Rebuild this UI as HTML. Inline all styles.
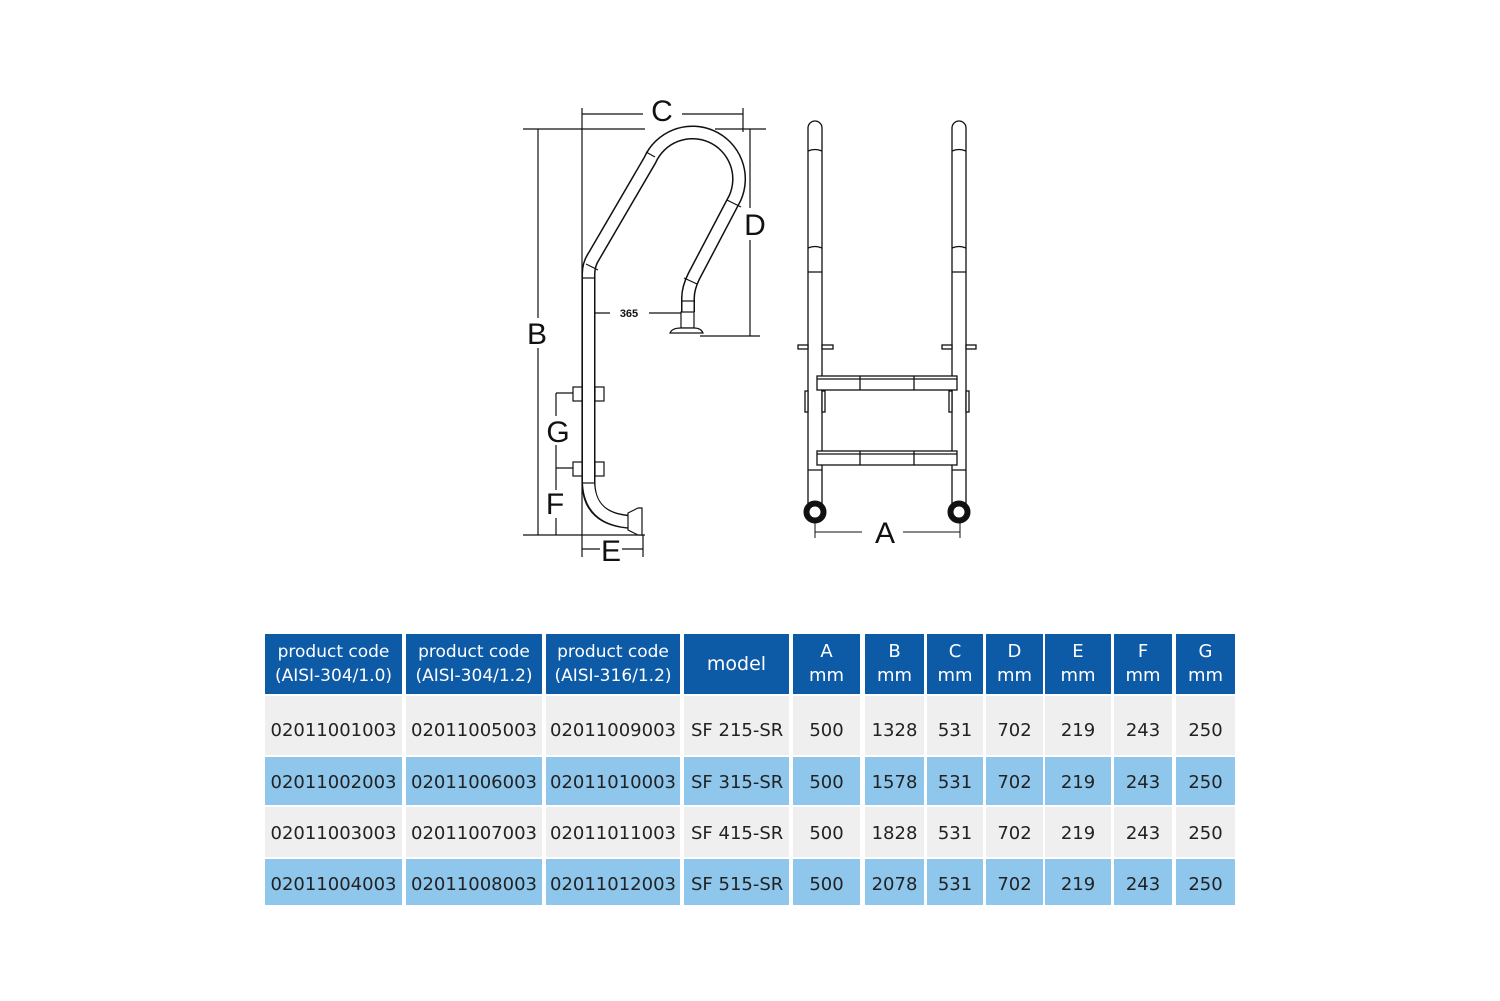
<!DOCTYPE html>
<html><head><meta charset="utf-8"><style>
body{margin:0;width:1500px;height:1001px;background:#fff;position:relative;overflow:hidden;font-family:"DejaVu Sans","Liberation Sans",sans-serif;}
.c{position:absolute;display:flex;align-items:center;justify-content:center;text-align:center;color:#222;font-size:18px;white-space:nowrap;box-sizing:border-box}
.h{background:#0d5aa7;color:#fff;line-height:24px;font-size:17px}
.g{background:#efefef}
.b{background:#8ec6ec}
</style></head><body>
<svg width="1500" height="600" style="position:absolute;left:0;top:0" font-family="Liberation Sans,sans-serif">
<g stroke="#111" stroke-width="1.2" fill="none">
<line x1="582" y1="108" x2="582" y2="557"/>
<line x1="743" y1="108" x2="743" y2="132"/>
<line x1="582" y1="114" x2="643" y2="114"/><line x1="682" y1="114" x2="743" y2="114"/>
<line x1="523" y1="129" x2="645" y2="129"/><line x1="715" y1="129" x2="766" y2="129"/>
<line x1="538" y1="129" x2="538" y2="318"/><line x1="538" y1="348" x2="538" y2="535"/>
<line x1="523" y1="535" x2="645" y2="535"/>
<line x1="750" y1="129" x2="750" y2="208"/><line x1="750" y1="240" x2="750" y2="336"/>
<line x1="700" y1="336" x2="760" y2="336"/>
<line x1="582" y1="313" x2="610" y2="313"/><line x1="649" y1="313" x2="681" y2="313"/>
<line x1="556" y1="393" x2="573" y2="393"/><line x1="556" y1="468" x2="573" y2="468"/>
<line x1="556" y1="393" x2="556" y2="416"/><line x1="556" y1="445" x2="556" y2="490"/>
<line x1="556" y1="518" x2="556" y2="535"/>
<line x1="643" y1="535" x2="643" y2="557"/>
<line x1="582" y1="549" x2="600" y2="549"/><line x1="622" y1="549" x2="643" y2="549"/>
</g>
<path d="M588.5,483 L588.5,274 Q588.5,264 594,256 L650,160 A46,46 0 0 1 735,198 L694,276 Q688,288 688,298 L688,312" stroke="#111" stroke-width="14" fill="none"/>
<path d="M588.5,483 L588.5,274 Q588.5,264 594,256 L650,160 A46,46 0 0 1 735,198 L694,276 Q688,288 688,298 L688,312" stroke="#fff" stroke-width="11" fill="none"/>
<path d="M588.5,482 Q588.5,520 632,522" stroke="#111" stroke-width="14" fill="none"/>
<path d="M588.5,480 Q588.5,520 632,522" stroke="#fff" stroke-width="11" fill="none"/>
<g stroke="#111" stroke-width="1.2" fill="#fff">
<line x1="582" y1="278" x2="595" y2="278"/><line x1="586" y1="264" x2="598" y2="270"/>
<line x1="646" y1="152" x2="655" y2="157"/><line x1="727" y1="200" x2="741" y2="207"/>
<line x1="684" y1="278" x2="697" y2="284"/><line x1="681" y1="301" x2="694" y2="301"/>
<rect x="681" y="312" width="13" height="16"/>
<path d="M670,333 Q672,328 681,328 L694,328 Q701,328 703,333 Z"/>
<line x1="582" y1="483" x2="595" y2="483"/>
<path d="M628,513 L638,508 L642,508 L642,535 L638,535 L628,530 Z"/>
<rect x="573" y="387" width="9" height="14"/><rect x="595" y="387" width="9" height="14"/>
<rect x="573" y="462" width="9" height="14"/><rect x="595" y="462" width="9" height="14"/>
</g>
<g font-size="30" fill="#111" text-anchor="middle">
<text x="662" y="121">C</text><text x="537" y="344">B</text><text x="755" y="235">D</text>
<text x="558" y="442">G</text><text x="555" y="514">F</text><text x="611" y="561">E</text>
<text x="885" y="543">A</text>
<text x="629" y="317" font-size="11" font-weight="bold">365</text>
</g>
<g stroke="#111" stroke-width="1.3" fill="#fff">
<path d="M808,505 L808,128 A7,7 0 0 1 822,128 L822,505"/>
<path d="M952,505 L952,128 A7,7 0 0 1 966,128 L966,505"/>
<path d="M808,151 Q815,148 822,151 M808,248 Q815,245 822,248 M808,272 L822,272 M952,151 Q959,148 966,151 M952,248 Q959,245 966,248 M952,272 L966,272 M808,470 L822,470 M952,470 L966,470" fill="none"/>
<rect x="798" y="345" width="10" height="4"/><rect x="822" y="345" width="11" height="4"/>
<rect x="942" y="345" width="10" height="4"/><rect x="966" y="345" width="10" height="4"/>
<rect x="817" y="376" width="140" height="14"/><line x1="817" y1="379" x2="957" y2="379"/>
<line x1="860" y1="376" x2="860" y2="390"/><line x1="914" y1="376" x2="914" y2="390"/>
<rect x="817" y="451" width="140" height="14"/><line x1="817" y1="454" x2="957" y2="454"/>
<line x1="860" y1="451" x2="860" y2="465"/><line x1="914" y1="451" x2="914" y2="465"/>
<rect x="805" y="391" width="3" height="21"/><rect x="822" y="391" width="3" height="21"/>
<rect x="949" y="391" width="3" height="21"/><rect x="966" y="391" width="3" height="21"/>
<circle cx="815" cy="512" r="8.5" stroke-width="6"/><circle cx="959" cy="512" r="8.5" stroke-width="6"/>
<line x1="815" y1="522" x2="815" y2="538" stroke-width="1"/><line x1="960" y1="522" x2="960" y2="538" stroke-width="1"/>
<line x1="815" y1="532" x2="862" y2="532" stroke-width="1"/><line x1="903" y1="532" x2="960" y2="532" stroke-width="1"/>
</g>
</svg>

<div class="c h" style="left:265px;top:634px;width:137px;height:60px">product code<br>(AISI-304/1.0)</div>
<div class="c h" style="left:406px;top:634px;width:136px;height:60px">product code<br>(AISI-304/1.2)</div>
<div class="c h" style="left:546px;top:634px;width:134px;height:60px">product code<br>(AISI-316/1.2)</div>
<div class="c h" style="left:684px;top:634px;width:105px;height:60px;font-size:19px">model</div>
<div class="c h" style="left:793px;top:634px;width:67px;height:60px;font-size:18px">A<br>mm</div>
<div class="c h" style="left:865px;top:634px;width:59px;height:60px;font-size:18px">B<br>mm</div>
<div class="c h" style="left:927px;top:634px;width:56px;height:60px;font-size:18px">C<br>mm</div>
<div class="c h" style="left:986px;top:634px;width:57px;height:60px;font-size:18px">D<br>mm</div>
<div class="c h" style="left:1045px;top:634px;width:66px;height:60px;font-size:18px">E<br>mm</div>
<div class="c h" style="left:1114px;top:634px;width:58px;height:60px;font-size:18px">F<br>mm</div>
<div class="c h" style="left:1176px;top:634px;width:59px;height:60px;font-size:18px">G<br>mm</div>

<div id="rows"></div>
<script>
var rows=[["02011001003","02011005003","02011009003","SF 215-SR","1328",696,59,"g",10],
["02011002003","02011006003","02011010003","SF 315-SR","1578",757,48,"b",2],
["02011003003","02011007003","02011011003","SF 415-SR","1828",807,50,"g",2],
["02011004003","02011008003","02011012003","SF 515-SR","2078",859,46,"b",4]];
var cols=[[265,137],[406,136],[546,134],[684,105],[793,67],[865,59],[927,56],[986,57],[1045,66],[1114,58],[1176,59]];
var h="";
rows.forEach(function(r){var v=[r[0],r[1],r[2],r[3],"500",r[4],"531","702","219","243","250"];
v.forEach(function(t,i){h+='<div class="c '+r[7]+'" style="left:'+cols[i][0]+'px;top:'+r[5]+'px;width:'+cols[i][1]+'px;height:'+r[6]+'px;padding-top:'+r[8]+'px;'+(i==3?'justify-content:flex-start;padding-left:7px;':'')+'">'+t+'</div>';});});
document.getElementById("rows").outerHTML=h;
</script>
</body></html>
